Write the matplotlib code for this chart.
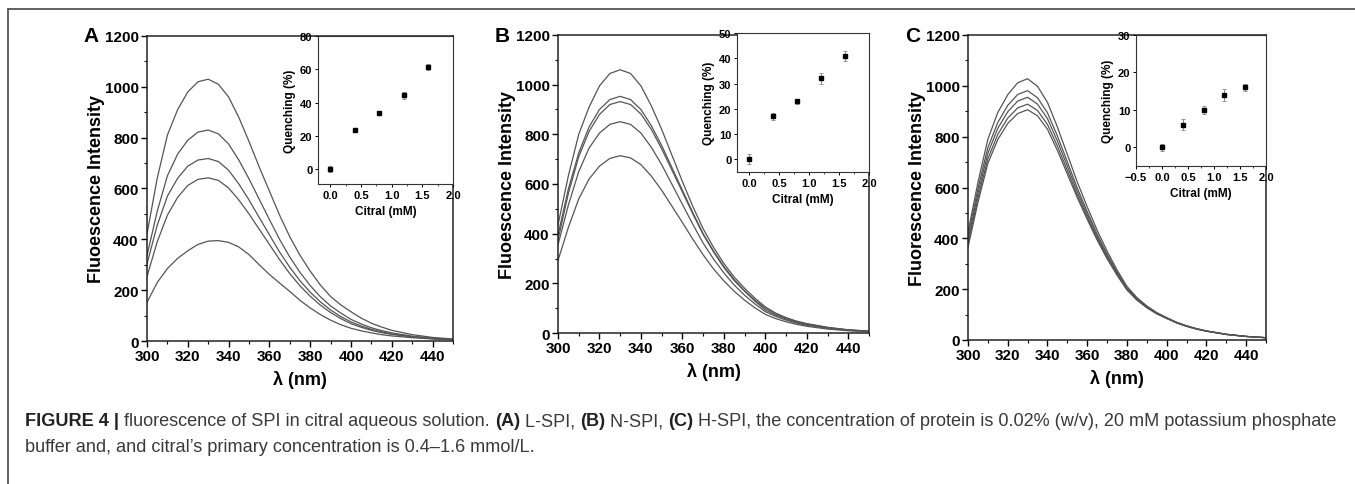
import matplotlib
matplotlib.use("Agg")
from matplotlib import pyplot as plt
from matplotlib.lines import Line2D
from matplotlib.ticker import MultipleLocator
import numpy as np

# emission wavelengths (nm) at which the curves were read
wl = [300, 305, 310, 315, 320, 325, 330, 335, 340, 345, 350, 355, 360, 365,
      370, 375, 380, 385, 390, 395, 400, 405, 410, 415, 420, 430, 440, 450]

# panel A (L-SPI)
a1 = [421, 640, 810, 910, 980, 1020, 1030, 1010, 960, 880, 785, 685, 590, 495,
      410, 337, 275, 220, 175, 142, 115, 90, 70, 55, 42, 25, 14, 8]
a2 = [336, 510, 650, 735, 790, 822, 830, 815, 775, 712, 638, 558, 478, 400,
      330, 270, 218, 174, 138, 110, 85, 67, 52, 41, 32, 19, 11, 6]
a3 = [303, 455, 570, 640, 688, 712, 718, 706, 672, 618, 555, 486, 418, 350,
      290, 237, 192, 154, 122, 96, 75, 59, 46, 36, 28, 17, 10, 6]
a4 = [254, 390, 495, 565, 612, 636, 642, 632, 602, 555, 500, 440, 380, 320,
      265, 217, 176, 141, 112, 88, 68, 54, 42, 33, 26, 16, 9, 5]
a5 = [152, 230, 285, 325, 355, 380, 393, 395, 388, 370, 340, 300, 262, 228,
      195, 160, 130, 104, 82, 64, 50, 40, 32, 25, 20, 13, 8, 5]

# panel B (N-SPI)
b1 = [435, 633, 800, 910, 995, 1045, 1060, 1045, 995, 915, 820, 715, 610, 510,
      420, 345, 280, 225, 180, 140, 105, 80, 62, 48, 38, 23, 13, 8]
b2 = [395, 580, 725, 830, 900, 940, 953, 940, 900, 835, 755, 665, 575, 485,
      400, 330, 268, 215, 170, 132, 100, 77, 60, 46, 36, 22, 12, 7]
b3 = [375, 562, 710, 812, 880, 920, 932, 920, 882, 820, 742, 655, 568, 480,
      397, 327, 264, 211, 168, 128, 93, 72, 56, 43, 34, 20, 12, 7]
b4 = [355, 515, 650, 745, 805, 840, 851, 840, 805, 748, 678, 598, 518, 438,
      362, 298, 242, 193, 152, 117, 86, 67, 52, 40, 31, 19, 11, 6]
b5 = [292, 425, 540, 620, 672, 703, 714, 705, 678, 632, 575, 510, 445, 378,
      315, 258, 210, 168, 132, 101, 75, 58, 45, 35, 27, 16, 9, 5]

# panel C (H-SPI)
c1 = [424, 620, 790, 895, 965, 1012, 1028, 998, 935, 838, 730, 622, 524, 432,
      350, 276, 211, 167, 134, 108, 88, 70, 56, 45, 36, 23, 14, 9]
c2 = [408, 596, 757, 856, 923, 966, 981, 953, 894, 803, 701, 598, 505, 417,
      338, 268, 205, 163, 131, 106, 87, 69, 55, 44, 35, 22, 14, 9]
c3 = [391, 577, 735, 833, 898, 940, 955, 928, 871, 783, 684, 584, 494, 408,
      331, 263, 202, 161, 129, 105, 86, 68, 55, 44, 35, 22, 14, 9]
c4 = [378, 558, 713, 809, 873, 913, 928, 903, 848, 763, 667, 571, 483, 400,
      325, 259, 199, 159, 128, 104, 85, 68, 54, 43, 35, 22, 14, 9]
c5 = [365, 541, 695, 789, 852, 891, 906, 882, 829, 746, 653, 560, 475, 393,
      320, 255, 197, 157, 127, 103, 85, 67, 54, 43, 35, 22, 14, 9]

# insets: quenching vs citral
citral = [0.0, 0.4, 0.8, 1.2, 1.6]
qa = [0, 23.7, 33.6, 44.4, 61.3]
qa_err = [2, 1, 1, 2, 2]
qb = [0, 17, 23, 32, 41]
qb_err = [2, 1.5, 1, 2, 2]
qc = [0, 6, 10, 14, 16]
qc_err = [1, 1.5, 1, 1.5, 1]

FONT = ["Liberation Sans", "DejaVu Sans"]
plt.rcParams["font.family"] = FONT
plt.rcParams["font.weight"] = "bold"

fig = plt.figure(figsize=(13.55, 4.85), dpi=100)
W, H = 1355.0, 485.0


def box(l, t, r, b):
    return [l / W, 1 - b / H, (r - l) / W, (b - t) / H]


panels = [
    ("A", box(147, 37, 453, 342), [a1, a2, a3, a4, a5], "Fluoescence Intensity",
     box(318, 37, 453, 185), qa, qa_err, (-0.2, 2.0), (-9, 80), 20, 83),
    ("B", box(558, 36, 869, 334), [b1, b2, b3, b4, b5], "Fluoescence Intensity",
     box(737, 34, 869, 173), qb, qb_err, (-0.2, 2.0), (-5, 50), 10, 495),
    ("C", box(968, 36, 1266, 341), [c1, c2, c3, c4, c5], "Fluorescence Intensity",
     box(1136, 36, 1266, 167), qc, qc_err, (-0.5, 2.0), (-5, 30), 10, 905),
]

for label, rect, curves, ylab, irect, q, qerr, ixlim, iylim, iystep, lx in panels:
    ax = fig.add_axes(rect)
    for c in curves:
        ax.plot(wl, c, color="#555555", lw=0.9)
    ax.set_xlim(300, 450)
    ax.set_ylim(0, 1200)
    ax.xaxis.set_major_locator(MultipleLocator(20))
    ax.xaxis.set_minor_locator(MultipleLocator(10))
    ax.yaxis.set_major_locator(MultipleLocator(200))
    ax.yaxis.set_minor_locator(MultipleLocator(100))
    ax.set_xticks(np.arange(300, 441, 20))
    ax.tick_params(which="major", length=4, width=1, labelsize=11, pad=2)
    ax.tick_params(which="minor", length=2.5, width=0.8)
    for s in ax.spines.values():
        s.set_linewidth(1.1)
        s.set_color("#222222")
    ax.set_ylabel(ylab, fontsize=13, fontweight="bold", labelpad=0)
    ax.set_xlabel("λ (nm)", fontsize=13, fontweight="bold", labelpad=5)
    fig.text(lx / W, 1 - 37 / H, label, fontsize=15, fontweight="bold",
             ha="left", va="center")

    ins = fig.add_axes(irect)
    ins.errorbar(citral, q, yerr=qerr, fmt="s", ms=2.2, color="black",
                 ecolor="#888888", elinewidth=0.7, capsize=1.2, capthick=0.6)
    ins.set_xlim(*ixlim)
    ins.set_ylim(*iylim)
    ins.xaxis.set_major_locator(MultipleLocator(0.5))
    ins.xaxis.set_minor_locator(MultipleLocator(0.25))
    ins.yaxis.set_major_locator(MultipleLocator(iystep))
    ins.tick_params(which="major", length=2.5, width=0.7, labelsize=8, pad=1.5)
    ins.tick_params(which="minor", length=1.5, width=0.5)
    for s in ins.spines.values():
        s.set_linewidth(0.8)
        s.set_color("#333333")
    ins.set_xlabel("Citral (mM)", fontsize=8.5, fontweight="bold", labelpad=4)
    ins.set_ylabel("Quenching (%)", fontsize=8.5, fontweight="bold", labelpad=3)

# frame lines around the figure
fig.add_artist(Line2D([8 / W, 1.0], [1 - 10 / H, 1 - 10 / H], color="#555555", lw=1.3))
fig.add_artist(Line2D([8 / W, 8 / W], [1 - 10 / H, 0.0], color="#555555", lw=1.3))

# caption, drawn piece by piece so bold parts sit inline
renderer = fig.canvas.get_renderer()


def caption_line(pieces, x0, y):
    x = x0
    for txt, bold in pieces:
        t = fig.text(x / W, 1 - y / H, txt, fontsize=13.1,
                     fontweight="bold" if bold else "normal",
                     color="#222222" if bold else "#3a3a3a",
                     ha="left", va="center")
        bb = t.get_window_extent(renderer=renderer)
        x += bb.width


caption_line([("FIGURE 4 | ", True),
              ("fluorescence of SPI in citral aqueous solution. ", False),
              ("(A)", True), (" L-SPI, ", False),
              ("(B)", True), (" N-SPI, ", False),
              ("(C)", True),
              (" H-SPI, the concentration of protein is 0.02% (w/v), 20 mM potassium phosphate", False)],
             25, 422)
caption_line([("buffer and, and citral\u2019s primary concentration is 0.4\u20131.6 mmol/L.", False)],
             25, 448)

fig.savefig("out.png", dpi=100)
